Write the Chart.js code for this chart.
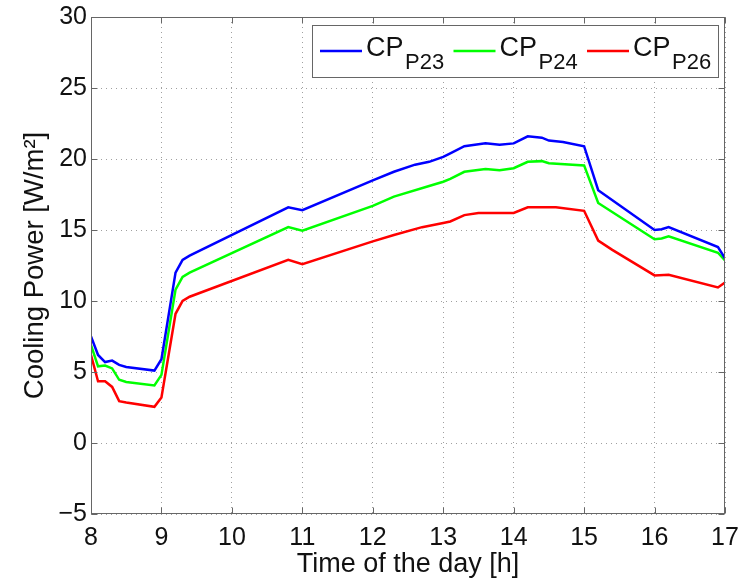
<!DOCTYPE html>
<html>
<head>
<meta charset="utf-8">
<script src="https://cdn.jsdelivr.net/npm/chart.js@4.4.1/dist/chart.umd.min.js"></script>
<style>
    html, body { margin: 0; padding: 0; background: #fff; }
</style>
</head>
<body>
<canvas id="chart-cooling" width="742" height="581"></canvas>
<script>
// time of day [h] and cooling power [W/m2]
var timeP23 = [8.0, 8.1, 8.2, 8.3, 8.4, 8.5, 8.9, 9.0, 9.2, 9.3, 9.4, 10.8, 11.0, 12.0, 12.3, 12.6, 12.8, 13.0, 13.1, 13.3, 13.6, 13.8, 14.0, 14.2, 14.4, 14.5, 14.7, 15.0, 15.2, 16.0, 16.1, 16.2, 16.9, 17.0];
var cpP23 = [7.5, 6.2, 5.7, 5.8, 5.5, 5.35, 5.1, 5.9, 12.0, 12.9, 13.2, 16.6, 16.4, 18.5, 19.1, 19.6, 19.8, 20.15, 20.4, 20.9, 21.1, 21.0, 21.1, 21.6, 21.5, 21.3, 21.2, 20.9, 17.8, 15.0, 15.05, 15.2, 13.8, 13.0];

var timeP24 = [8.0, 8.1, 8.2, 8.3, 8.4, 8.5, 8.9, 9.0, 9.2, 9.3, 9.4, 10.8, 11.0, 12.0, 12.3, 12.8, 13.0, 13.1, 13.3, 13.6, 13.8, 14.0, 14.2, 14.4, 14.5, 15.0, 15.2, 16.0, 16.1, 16.2, 16.9, 17.0];
var cpP24 = [6.9, 5.4, 5.45, 5.25, 4.45, 4.3, 4.05, 4.8, 10.8, 11.7, 12.0, 15.2, 14.95, 16.7, 17.35, 18.1, 18.4, 18.6, 19.1, 19.3, 19.2, 19.35, 19.8, 19.85, 19.7, 19.55, 16.9, 14.35, 14.4, 14.55, 13.4, 12.85];

var timeP26 = [8.0, 8.1, 8.2, 8.3, 8.4, 8.5, 8.9, 9.0, 9.2, 9.3, 9.4, 10.8, 11.0, 12.0, 12.3, 12.7, 13.0, 13.1, 13.3, 13.5, 14.0, 14.2, 14.6, 15.0, 15.2, 15.4, 16.0, 16.2, 16.9, 17.0];
var cpP26 = [6.2, 4.35, 4.35, 3.95, 2.95, 2.85, 2.55, 3.2, 9.1, 10.0, 10.3, 12.9, 12.6, 14.2, 14.65, 15.2, 15.5, 15.6, 16.05, 16.2, 16.2, 16.6, 16.6, 16.35, 14.25, 13.6, 11.8, 11.85, 10.95, 11.3];

var seriesSub = ["P23", "P24", "P26"];
var seriesColor = ["#0000ff", "#00ff00", "#ff0000"];

var xMin = 8, xMax = 17, xStep = 1;
var yMin = -5, yMax = 30, yStep = 5;

var fontFam = "'Liberation Sans', Arial, Helvetica, sans-serif";

function toPoints(xs, ys) {
    var pts = [];
    for (var i = 0; i < xs.length; i++) {
        pts.push({ x: xs[i], y: ys[i] });
    }
    return pts;
}

// box, inward tick marks and the legend with subscripts
var matlabFrame = {
    id: "matlabFrame",
    afterDraw: function (chart) {
        var ctx = chart.ctx;
        var a = chart.chartArea;
        var sx = chart.scales.x, sy = chart.scales.y;
        ctx.save();
        ctx.strokeStyle = "#666";
        ctx.lineWidth = 1;
        var L = Math.round(a.left) + 0.5, R = Math.round(a.right) - 0.5;
        var T = Math.round(a.top) + 0.5, B = Math.round(a.bottom) - 0.5;
        ctx.strokeRect(L, T, R - L, B - T);

        ctx.beginPath();
        sx.ticks.forEach(function (t) {
            var px = Math.round(sx.getPixelForValue(t.value)) + 0.5;
            ctx.moveTo(px, B); ctx.lineTo(px, B - 6);
            ctx.moveTo(px, T); ctx.lineTo(px, T + 6);
        });
        sy.ticks.forEach(function (t) {
            var py = Math.round(sy.getPixelForValue(t.value)) + 0.5;
            ctx.moveTo(L, py); ctx.lineTo(L + 6, py);
            ctx.moveTo(R, py); ctx.lineTo(R - 6, py);
        });
        ctx.stroke();

        // legend
        var bw = 406, bh = 52;
        var bx = Math.round(a.right) - 7 - bw, by = Math.round(a.top) + 8;
        ctx.fillStyle = "#fff";
        ctx.fillRect(bx, by, bw, bh);
        ctx.strokeStyle = "#666";
        ctx.strokeRect(bx + 0.5, by + 0.5, bw, bh);

        var stride = 133.5;
        ctx.textBaseline = "alphabetic";
        ctx.textAlign = "left";
        chart.data.datasets.forEach(function (ds, i) {
            var cx = bx + 8 + i * stride;
            ctx.strokeStyle = seriesColor[i];
            ctx.lineWidth = 2.5;
            ctx.beginPath();
            ctx.moveTo(cx, by + 26);
            ctx.lineTo(cx + 42, by + 26);
            ctx.stroke();
            ctx.fillStyle = "#111";
            ctx.font = "27px " + fontFam;
            ctx.fillText("CP", cx + 46, by + 31);
            ctx.font = "22px " + fontFam;
            ctx.fillText(seriesSub[i], cx + 85, by + 44);
        });
        ctx.restore();
    }
};

function drawChart() {
    var ctx = document.getElementById("chart-cooling").getContext("2d");
    var sets = [
        toPoints(timeP23, cpP23),
        toPoints(timeP24, cpP24),
        toPoints(timeP26, cpP26)
    ];
    var datasets = sets.map(function (pts, i) {
        return {
            label: "CP" + seriesSub[i],
            data: pts,
            borderColor: seriesColor[i],
            backgroundColor: seriesColor[i],
            borderWidth: 2.5,
            pointRadius: 0,
            tension: 0,
            fill: false
        };
    });

    new Chart(ctx, {
        type: "line",
        data: { datasets: datasets },
        options: {
            responsive: false,
            animation: false,
            layout: { padding: { top: 17, right: 17, left: 0, bottom: 0 } },
            plugins: {
                legend: { display: false },
                tooltip: { enabled: false }
            },
            scales: {
                x: {
                    type: "linear",
                    min: xMin, max: xMax,
                    afterFit: function (s) {
                        s.height = 67;
                        s.paddingLeft = 0;
                        s.paddingRight = 0;
                    },
                    ticks: {
                        stepSize: xStep,
                        padding: 9,
                        color: "#111",
                        font: { family: fontFam, size: 25 },
                        maxRotation: 0
                    },
                    grid: { color: "#a0a0a0", lineWidth: 1, drawTicks: false },
                    border: { display: false, dash: [1, 4] },
                    title: {
                        display: true,
                        text: "Time of the day [h]",
                        color: "#111",
                        font: { family: fontFam, size: 27 },
                        padding: { top: 0, bottom: 0 }
                    }
                },
                y: {
                    min: yMin, max: yMax,
                    afterFit: function (s) {
                        s.width = 91;
                        s.paddingTop = 0;
                        s.paddingBottom = 0;
                    },
                    ticks: {
                        stepSize: yStep,
                        padding: 4,
                        color: "#111",
                        font: { family: fontFam, size: 25 },
                        callback: function (v) { return String(v).replace("-", "\u2212"); }
                    },
                    grid: { color: "#a0a0a0", lineWidth: 1, drawTicks: false },
                    border: { display: false, dash: [1, 4] },
                    title: {
                        display: true,
                        text: "Cooling Power [W/m\u00b2]",
                        color: "#111",
                        font: { family: fontFam, size: 27.5 },
                        padding: { top: 19, bottom: 0 }
                    }
                }
            }
        },
        plugins: [matlabFrame]
    });
}

drawChart();
</script>
</body>
</html>
